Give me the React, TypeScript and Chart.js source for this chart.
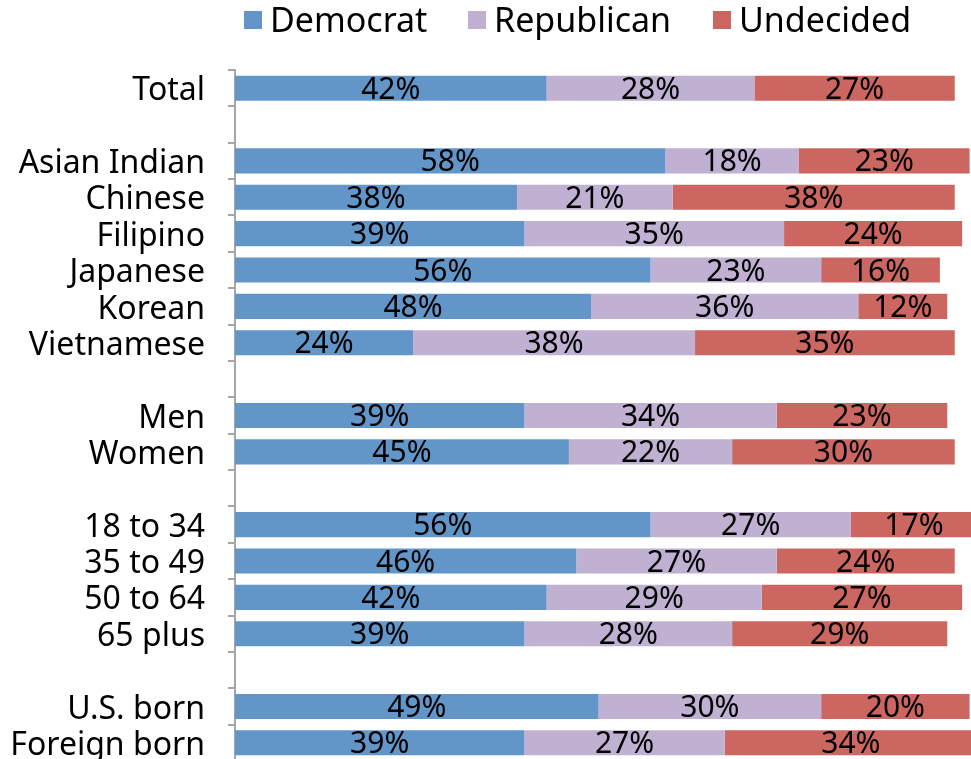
import React, { useEffect, useRef } from "react";
import { Chart, registerables } from "chart.js";

Chart.register(...registerables);

const categories = [
  "Total", "",
  "Asian Indian", "Chinese", "Filipino", "Japanese", "Korean", "Vietnamese", "",
  "Men", "Women", "",
  "18 to 34", "35 to 49", "50 to 64", "65 plus", "",
  "U.S. born", "Foreign born",
];

const democrat = [42, null, 58, 38, 39, 56, 48, 24, null, 39, 45, null, 56, 46, 42, 39, null, 49, 39];
const republican = [28, null, 18, 21, 35, 23, 36, 38, null, 34, 22, null, 27, 27, 29, 28, null, 30, 27];
const undecided = [27, null, 23, 38, 24, 16, 12, 35, null, 23, 30, null, 17, 24, 27, 29, null, 20, 34];

const seriesNames = ["Democrat", "Republican", "Undecided"];
const seriesColors = ["#6296C8", "#C0B0D2", "#CC6660"];

const FONT = "'Noto Sans', 'DejaVu Sans', sans-serif";

const legendPlugin = {
  id: "customLegend",
  afterDraw(chart: any) {
    const ctx = chart.ctx;
    const boxX = [244, 468, 713];
    ctx.save();
    ctx.font = `34px ${FONT}`;
    ctx.textBaseline = "alphabetic";
    ctx.textAlign = "left";
    chart.data.datasets.forEach((ds: any, i: number) => {
      ctx.fillStyle = ds.backgroundColor;
      ctx.fillRect(boxX[i], 11, 18, 18);
      ctx.fillStyle = "#000";
      ctx.fillText(ds.label, boxX[i] + 26, 32);
    });
    ctx.restore();
  },
};

const valueLabelPlugin = {
  id: "valueLabels",
  afterDatasetsDraw(chart: any) {
    const ctx = chart.ctx;
    ctx.save();
    ctx.font = `30px ${FONT}`;
    ctx.fillStyle = "#000";
    ctx.textAlign = "center";
    ctx.textBaseline = "middle";
    chart.data.datasets.forEach((ds: any, di: number) => {
      const meta = chart.getDatasetMeta(di);
      meta.data.forEach((bar: any, idx: number) => {
        const v = ds.data[idx];
        if (v === null || v === undefined) return;
        const p = bar.getProps(["x", "y", "base"], true);
        const cx = (p.x + p.base) / 2;
        ctx.fillText(`${v}%`, cx, p.y + 2);
      });
    });
    ctx.restore();
  },
};

export default function App() {
  const ref = useRef<HTMLCanvasElement | null>(null);

  useEffect(() => {
    if (!ref.current) return;
    const chart = new Chart(ref.current, {
      type: "bar",
      data: {
        labels: categories,
        datasets: [
          { label: seriesNames[0], data: democrat, backgroundColor: seriesColors[0] },
          { label: seriesNames[1], data: republican, backgroundColor: seriesColors[1] },
          { label: seriesNames[2], data: undecided, backgroundColor: seriesColors[2] },
        ],
      },
      options: {
        indexAxis: "y",
        responsive: false,
        animation: false,
        layout: { padding: { top: 70, left: 0, right: 0, bottom: 0 } },
        datasets: {
          bar: { barPercentage: 0.69, categoryPercentage: 1, borderWidth: 0 },
        },
        plugins: {
          legend: { display: false },
          tooltip: { enabled: false },
        },
        scales: {
          x: {
            stacked: true,
            display: false,
            min: 0,
            max: 100,
          },
          y: {
            stacked: true,
            grid: {
              display: true,
              drawOnChartArea: false,
              drawTicks: true,
              tickLength: 7,
              color: "#A6A6A6",
              lineWidth: 2,
              offset: true,
            },
            border: { display: true, color: "#A6A6A6", width: 2 },
            ticks: {
              color: "#000",
              padding: 23,
              labelOffset: 3,
              font: { family: FONT, size: 32 },
              autoSkip: false,
            },
            afterFit(scale: any) {
              scale.width = 235;
              scale.paddingTop = 0;
              scale.paddingBottom = 0;
            },
          },
        },
      } as any,
      plugins: [legendPlugin, valueLabelPlugin],
    });
    return () => chart.destroy();
  }, []);

  return (
    <div
      style={{
        position: "fixed",
        left: 0,
        top: 0,
        width: 971,
        height: 759,
        overflow: "hidden",
        background: "#fff",
      }}
    >
      <canvas ref={ref} width={977} height={761} style={{ display: "block" }} />
    </div>
  );
}
